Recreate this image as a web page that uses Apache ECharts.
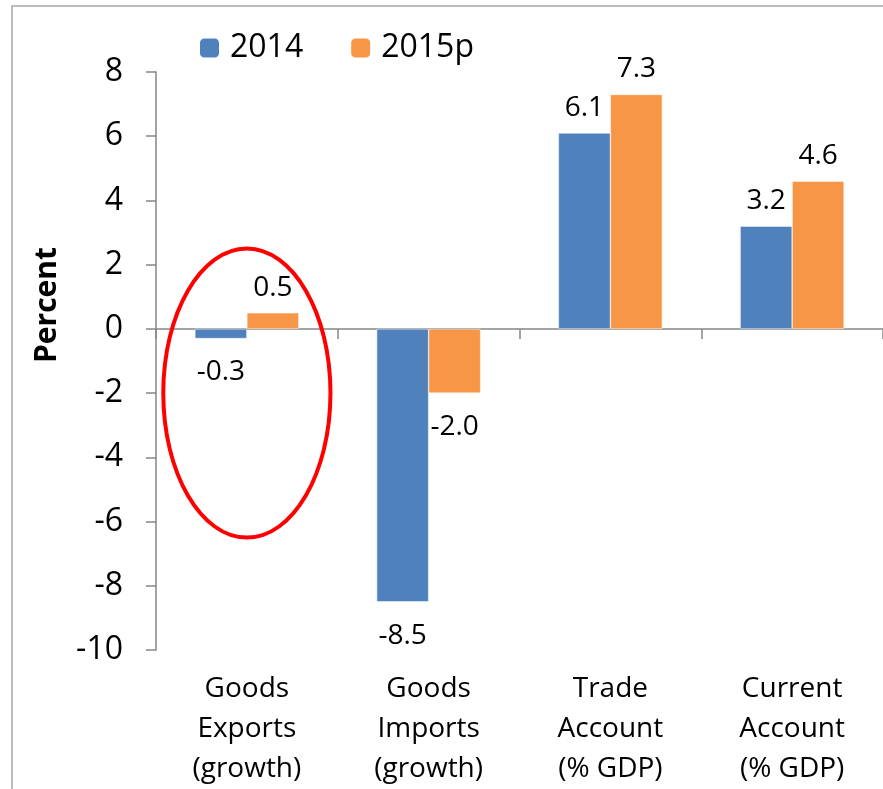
<!DOCTYPE html>
<html>
<head>
<meta charset="utf-8">
<script src="https://cdn.jsdelivr.net/npm/echarts@6/dist/echarts.min.js"></script>
<style>
  html, body { margin: 0; padding: 0; background: #fff; }
  #chart { width: 883px; height: 789px; }
</style>
</head>
<body>
<div id="chart"></div>
<script>
const categories = [
    'Goods\nExports\n(growth)',
    'Goods\nImports\n(growth)',
    'Trade\nAccount\n(% GDP)',
    'Current\nAccount\n(% GDP)'
];
const values2014 = [-0.3, -8.5, 6.1, 3.2];
const values2015p = [0.5, -2.0, 7.3, 4.6];
const seriesNames = ['2014', '2015p'];

const FONT = '"Open Sans", "Noto Sans", sans-serif';
const axisGray = '#868686';

const chart = echarts.init(document.getElementById('chart'));

const labelFor = (v) => ({
    show: true,
    position: v < 0 ? 'bottom' : 'top',
    distance: v < 0 ? 20 : 11,
    color: '#000',
    fontFamily: FONT,
    fontSize: 28,
    formatter: v.toFixed(1)
});

const makeData = (vals) => vals.map(v => ({ value: v, label: labelFor(v) }));

const option = {
    backgroundColor: '#fff',
    animation: false,
    legend: {
        data: seriesNames,
        left: 193,
        top: 27,
        itemWidth: 21,
        itemHeight: 21,
        itemGap: 46,
        textStyle: { fontFamily: FONT, fontSize: 32, color: '#000', padding: [0, 0, 0, 5] }
    },
    grid: {
        left: 156,
        right: 0,
        top: 72,
        bottom: 139
    },
    xAxis: [
        {
            type: 'category',
            data: categories,
            position: 'bottom',
            axisLine: { onZero: true, lineStyle: { color: axisGray, width: 1.5 } },
            axisTick: { show: true, length: 10, lineStyle: { color: axisGray, width: 1.5 } },
            axisLabel: { show: false }
        },
        {
            type: 'category',
            data: categories,
            position: 'bottom',
            axisLine: { show: false, onZero: false },
            axisTick: { show: false },
            axisLabel: {
                margin: 19,
                color: '#000',
                fontFamily: FONT,
                fontSize: 28,
                lineHeight: 40
            }
        }
    ],
    yAxis: {
        type: 'value',
        min: -10,
        max: 8,
        interval: 2,
        splitLine: { show: false },
        axisLine: { show: true, lineStyle: { color: axisGray, width: 1.5 } },
        axisTick: { show: true, length: 10, lineStyle: { color: axisGray, width: 1.5 } },
        axisLabel: {
            margin: 33,
            color: '#000',
            fontFamily: FONT,
            fontSize: 32
        }
    },
    series: [
        {
            name: seriesNames[0],
            type: 'bar',
            xAxisIndex: 0,
            data: makeData(values2014),
            barWidth: '28.6%',
            barGap: '0%',
            itemStyle: { color: '#4F81BD', borderColor: '#fff', borderWidth: 0.5 }
        },
        {
            name: seriesNames[1],
            type: 'bar',
            xAxisIndex: 0,
            data: makeData(values2015p),
            barWidth: '28.6%',
            barGap: '0%',
            itemStyle: { color: '#F79646', borderColor: '#fff', borderWidth: 0.5 }
        }
    ]
};

chart.setOption(option);

// annotation: red ellipse around the exports group, outer frame, rotated axis title
const c0 = chart.convertToPixel({ xAxisIndex: 0, yAxisIndex: 0 }, [0, -2]);
const c1 = chart.convertToPixel({ xAxisIndex: 0, yAxisIndex: 0 }, [1, 2.5]);
const cBottom = chart.convertToPixel({ xAxisIndex: 0, yAxisIndex: 0 }, [0, -6.5]);
const catW = c1[0] - c0[0];

chart.setOption({
    graphic: [
        {
            type: 'rect',
            shape: { x: 12, y: 6, width: 1000, height: 1000 },
            style: { fill: 'none', stroke: '#A6A6A6', lineWidth: 1.5 },
            silent: true
        },
        {
            type: 'ellipse',
            shape: {
                cx: c0[0],
                cy: (c1[1] + cBottom[1]) / 2,
                rx: catW * 0.46,
                ry: (cBottom[1] - c1[1]) / 2
            },
            style: { fill: 'none', stroke: '#FF0000', lineWidth: 4 },
            z: 10
        },
        {
            type: 'text',
            x: 47,
            y: 305,
            rotation: Math.PI / 2,
            style: {
                text: 'Percent',
                fontFamily: FONT,
                fontSize: 30,
                fontWeight: 'bold',
                fill: '#000',
                align: 'center',
                verticalAlign: 'middle'
            }
        }
    ]
});
</script>
</body>
</html>
